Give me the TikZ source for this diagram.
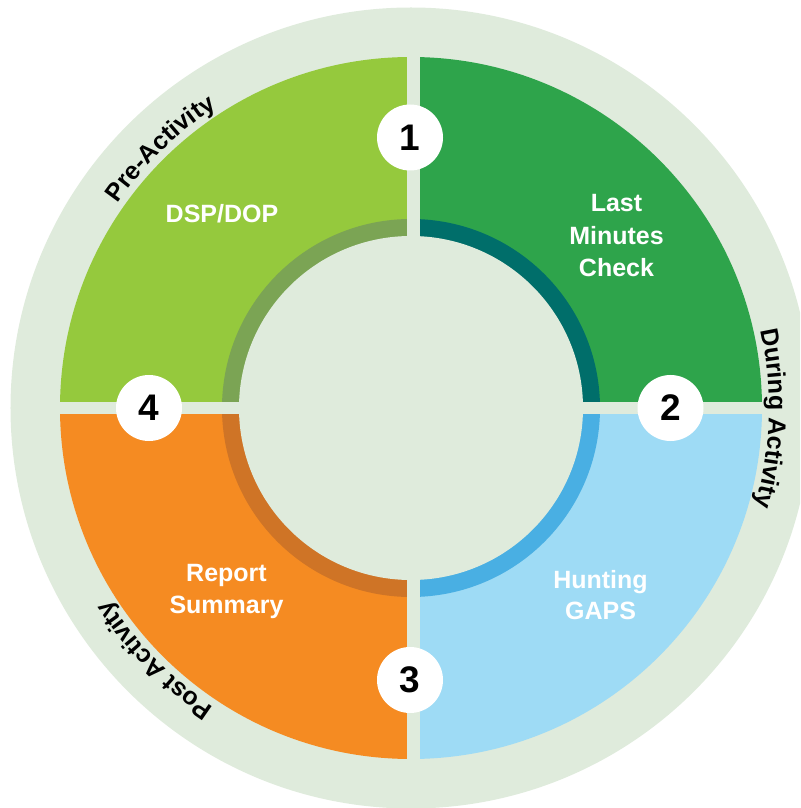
\documentclass[tikz,border=0pt]{standalone}
\usepackage{fontspec}
\setmainfont{Liberation Sans}
\usetikzlibrary{decorations.text}
\definecolor{ringbg}{HTML}{DFEBDC}
\definecolor{segTL}{HTML}{95C93D}
\definecolor{segTR}{HTML}{2EA44B}
\definecolor{segBL}{HTML}{F58B22}
\definecolor{segBR}{HTML}{9EDBF5}
\definecolor{bandTL}{HTML}{7BA454}
\definecolor{bandTR}{HTML}{006E6A}
\definecolor{bandBL}{HTML}{CF7426}
\definecolor{bandBR}{HTML}{49AFE3}
\newcommand\curvefont{\fontsize{25}{30}\selectfont\bfseries}
\begin{document}
\begin{tikzpicture}[x=1pt,y=1pt,
  seglabel/.style={text=white, font=\fontsize{25}{30}\selectfont\bfseries, anchor=base, inner sep=0pt},
  numcirc/.style={circle, fill=white, minimum size=66pt, inner sep=0pt, font=\fontsize{37}{40}\selectfont\bfseries, text=black},
  curvelabel/.style={decorate, decoration={text along path, text align=center, text={|\curvefont|#1}}}
]
\useasboundingbox (-411,-400) rectangle (389,408);
\clip (-411,-400) rectangle (389,408);
% outer ring background
\fill[ringbg] (0,0) circle[radius=400.5];
% quadrant segments
\fill[segTR] (0,0) -- (0:351) arc[start angle=0, end angle=90, radius=351] -- cycle;
\fill[segTL] (0,0) -- (90:351) arc[start angle=90, end angle=180, radius=351] -- cycle;
\fill[segBL] (0,0) -- (180:351) arc[start angle=180, end angle=270, radius=351] -- cycle;
\fill[segBR] (0,0) -- (270:351) arc[start angle=270, end angle=360, radius=351] -- cycle;
% inner bands
\fill[bandTR] (0,0) -- (0:189) arc[start angle=0, end angle=90, radius=189] -- cycle;
\fill[bandTL] (0,0) -- (90:189) arc[start angle=90, end angle=180, radius=189] -- cycle;
\fill[bandBL] (0,0) -- (180:189) arc[start angle=180, end angle=270, radius=189] -- cycle;
\fill[bandBR] (0,0) -- (270:189) arc[start angle=270, end angle=360, radius=189] -- cycle;
% inner disc
\fill[ringbg] (0,0) circle[radius=172];
% gaps
\fill[ringbg] (-4,-353) rectangle (9,353);
\fill[ringbg] (-353,-6.3) rectangle (353,6.3);
% segment labels
\node[seglabel] (l1) at (205.5,196) {Last};
\node[seglabel] (l2) at (205.5,163) {Minutes};
\node[seglabel] (l3) at (205.5,131.3) {Check};
\node[seglabel] (d1) at (-189,185) {DSP/DOP};
\node[seglabel] (r1) at (-184.5,-173.7) {Report};
\node[seglabel] (r2) at (-184.5,-205) {Summary};
\node[seglabel] (h1) at (189.5,-180) {Hunting};
\node[seglabel] (h2) at (189.5,-211) {GAPS};
% number circles
\node[numcirc] (n1) at (-1,270.5) {1};
\node[numcirc] (n2) at (259.5,0) {2};
\node[numcirc] (n3) at (-1,-272) {3};
\node[numcirc] (n4) at (-262,0) {4};
% curved labels
\path[curvelabel={Pre-Activity}] (154:358) arc[start angle=154, end angle=114, radius=358];
\path[curvelabel={During Activity}] (18.3:358) arc[start angle=18.3, end angle=-21.7, radius=358];
\path[curvelabel={Post Activity}] (-115.5:358) arc[start angle=-115.5, end angle=-155.5, radius=358];
\end{tikzpicture}
\end{document}
